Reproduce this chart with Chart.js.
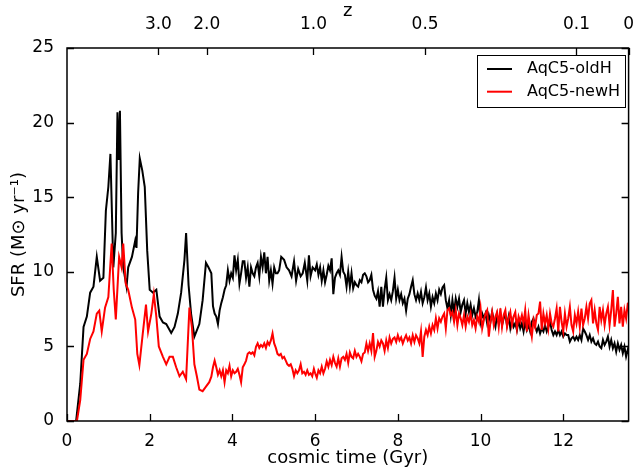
<!DOCTYPE html>
<html>
<head>
<meta charset="utf-8">
<title>SFR AqC5</title>
<script src="https://cdn.jsdelivr.net/npm/chart.js@4/dist/chart.umd.min.js"></script>
<style>
  html, body { margin: 0; padding: 0; background: #fff; }
  #grafico { display: block; }
</style>
</head>
<body>
<canvas id="grafico" width="639" height="472" style="width:639px;height:472px"></canvas>
<script>
// tempi (Gyr) e SFR - serie nera (AqC5-oldH)
var tempoOld = [0, 0.22, 0.32, 0.4, 0.48, 0.56, 0.64, 0.72, 0.8, 0.88,
  0.94, 1.0, 1.05, 1.12, 1.18, 1.22, 1.25, 1.28, 1.32, 1.36,
  1.44, 1.48, 1.57, 1.65, 1.68, 1.72, 1.76, 1.82, 1.88, 1.94,
  2.0, 2.08, 2.16, 2.24, 2.32, 2.4, 2.52, 2.6, 2.68, 2.76,
  2.84, 2.88, 2.94, 3.0, 3.08, 3.2, 3.28, 3.36, 3.42,
  3.49, 3.53, 3.57, 3.61, 3.65, 3.69, 3.73, 3.77, 3.81, 3.85,
  3.89, 3.93, 3.97, 4.01, 4.05, 4.09, 4.13, 4.17, 4.21, 4.25,
  4.29, 4.33, 4.37, 4.41, 4.45, 4.49, 4.53, 4.57, 4.61, 4.65,
  4.69, 4.73, 4.77, 4.81, 4.85, 4.89, 4.93, 4.97, 5.01, 5.05,
  5.09, 5.13, 5.18, 5.25, 5.31, 5.37, 5.43, 5.49, 5.54, 5.59,
  5.65, 5.70, 5.75, 5.81, 5.85, 5.89, 5.94,
  6.00, 6.04, 6.08, 6.12, 6.16, 6.20, 6.24, 6.28, 6.32, 6.36,
  6.40, 6.44, 6.48, 6.52, 6.56, 6.60, 6.64, 6.68, 6.72, 6.76,
  6.80, 6.84, 6.88, 6.92, 6.96, 7.00, 7.04, 7.08, 7.12, 7.16,
  7.20, 7.24, 7.28, 7.32, 7.36, 7.40, 7.44, 7.48, 7.52, 7.56,
  7.60, 7.64, 7.68, 7.72, 7.76, 7.80, 7.84, 7.88, 7.92, 7.96,
  8.00, 8.04, 8.08, 8.12, 8.16, 8.20, 8.24, 8.28, 8.32, 8.36,
  8.40, 8.44,
  8.48, 8.52, 8.56, 8.60, 8.64, 8.68, 8.72, 8.76, 8.80, 8.84,
  8.88, 8.92, 8.96, 9.00, 9.04, 9.08, 9.12, 9.16, 9.20, 9.24,
  9.28, 9.32, 9.36, 9.40, 9.44, 9.48, 9.52, 9.56, 9.60, 9.64,
  9.68, 9.72, 9.76, 9.80, 9.84, 9.88, 9.92, 9.96, 10.00, 10.04,
  10.08, 10.12, 10.16, 10.20, 10.24, 10.28, 10.32, 10.36, 10.40, 10.44,
  10.48, 10.52, 10.56, 10.60, 10.64, 10.68, 10.72, 10.76, 10.80, 10.84,
  10.88, 10.92, 10.96,
  11.00, 11.04, 11.08, 11.12, 11.16, 11.20, 11.24, 11.28, 11.32, 11.36,
  11.40, 11.44, 11.48, 11.52, 11.56, 11.60, 11.64, 11.68, 11.72, 11.76,
  11.80, 11.84, 11.88, 11.92, 11.96, 12.00, 12.04, 12.08, 12.12, 12.16,
  12.20, 12.24, 12.28, 12.32, 12.36, 12.40, 12.44, 12.48, 12.52, 12.56,
  12.60, 12.64, 12.68, 12.72, 12.76, 12.80, 12.84, 12.88, 12.92, 12.96,
  13.00, 13.04, 13.08, 13.12, 13.16, 13.20, 13.24, 13.28, 13.32, 13.36,
  13.40, 13.44, 13.48, 13.52, 13.56, 13.58];
var sfrOld = [0, 0, 2.5, 6.3, 7.0, 8.6, 9.0, 11.0, 9.4, 9.6,
  14.1, 15.7, 17.9, 10.3, 12.6, 20.7, 17.5, 20.8, 12.6, 10.3,
  9.0, 10.3, 11.0, 12.1, 11.6, 15.3, 17.6, 16.8, 15.7, 11.4,
  8.8, 8.6, 8.8, 7.0, 6.6, 6.5, 5.9, 6.3, 7.2, 8.6,
  10.8, 12.6, 9.1, 7.2, 5.65, 6.5, 8.1, 10.6, 10.3,
  9.9, 7.7, 7.2, 7.0, 6.5, 7.4, 7.9, 8.3, 8.8, 9.1,
  10.1, 9.4, 9.9, 9.6, 11.1, 10.1, 10.8, 9.2, 9.9, 10.7,
  10.7, 9.6, 10.3, 9.0, 10.3, 9.9, 9.7, 10.3, 10.6, 9.7,
  11.0, 10.3, 11.3, 9.9, 11.0, 9.4, 10.1, 9.2, 10.3, 9.9,
  9.9, 10.1, 11.0, 10.8, 10.3, 10.1, 9.7, 10.7, 9.4, 10.2,
  9.7, 9.9, 10.6, 9.4, 11.1, 9.7, 10.3,
  10.1, 10.5, 9.8, 10.3, 9.4, 10.1, 9.3, 9.8, 10.4, 10.1,
  10.9, 8.5, 9.6, 9.9, 10.1, 9.8, 11.0, 10.0, 9.8, 9.0,
  10.0, 9.0, 9.9, 8.9, 9.3, 9.1, 9.0, 9.44, 9.3, 9.8,
  9.9, 9.7, 9.3, 9.44, 9.8, 8.8, 8.4, 8.2, 8.7, 7.66,
  9.0, 7.66, 8.8, 9.6, 8.1, 8.5, 8.1, 8.7, 9.6, 8.2,
  8.8, 8.1, 8.5, 7.9, 8.2, 7.4, 8.2, 8.5, 9.0, 9.44,
  8.5, 8.1,
  8.55, 8.1, 8.66, 7.9, 8.3, 8.95, 8.1, 8.55, 7.66, 8.3,
  7.9, 8.55, 8.1, 8.8, 8.5, 8.95, 9.1, 8.1, 7.55, 8.1,
  7.1, 8.1, 7.3, 8.2, 7.66, 8.2, 7.3, 7.8, 8.1, 7.2,
  7.9, 7.3, 7.8, 7.1, 7.55, 7.0, 7.3, 8.1, 6.65, 7.2,
  6.88, 7.2, 6.55, 7.1, 6.65, 7.3, 6.77, 6.32, 7.1, 6.55,
  7.2, 6.43, 6.88, 7.1, 6.43, 7.0, 6.21, 6.77, 6.32, 6.55,
  6.1, 6.77, 6.21,
  6.54, 6.0, 6.65, 6.1, 6.43, 6.0, 6.65, 6.87, 6.32, 6.0,
  6.32, 5.87, 6.2, 6.0, 6.43, 6.0, 6.32, 6.65, 6.1, 5.76,
  6.0, 5.76, 6.1, 5.76, 6.0, 5.65, 5.87, 5.76, 5.76, 5.32,
  5.54, 5.65, 5.43, 5.65, 5.43, 5.76, 5.43, 6.2, 6.0, 5.76,
  5.43, 5.76, 5.32, 5.54, 5.2, 5.1, 5.32, 4.99, 4.88, 5.43,
  5.1, 5.32, 5.65, 4.99, 5.43, 4.88, 5.2, 4.65, 5.2, 4.77,
  5.1, 4.55, 4.99, 4.32, 4.77, 4.5];

// serie rossa (AqC5-newH)
var tempoNew = [0, 0.24, 0.32, 0.4, 0.48, 0.56, 0.64, 0.72, 0.78, 0.84,
  0.92, 1.0, 1.08, 1.13, 1.18, 1.26, 1.32, 1.36, 1.42, 1.48,
  1.57, 1.65, 1.70, 1.75, 1.83, 1.91, 1.96, 2.04, 2.1, 2.16,
  2.22, 2.32, 2.4, 2.48, 2.56, 2.64, 2.72, 2.8, 2.88, 2.96,
  3.02, 3.08, 3.14, 3.2, 3.28, 3.36, 3.44,
  3.49, 3.53, 3.57, 3.61, 3.65, 3.69, 3.73, 3.77, 3.81, 3.85,
  3.89, 3.93, 3.97, 4.01, 4.05, 4.09, 4.13, 4.17, 4.21, 4.25,
  4.29, 4.33, 4.37, 4.41, 4.45, 4.49, 4.53, 4.57, 4.61, 4.65,
  4.69, 4.73, 4.77, 4.81, 4.85, 4.89, 4.93, 4.97, 5.01, 5.05,
  5.09, 5.13, 5.17, 5.21, 5.25, 5.29, 5.33, 5.37, 5.41, 5.45,
  5.49, 5.53, 5.57, 5.61, 5.65, 5.69, 5.73, 5.77, 5.81, 5.85,
  5.89, 5.93, 5.97,
  6.00, 6.04, 6.08, 6.12, 6.16, 6.20, 6.24, 6.28, 6.32, 6.36,
  6.40, 6.44, 6.48, 6.52, 6.56, 6.60, 6.64, 6.68, 6.72, 6.76,
  6.80, 6.84, 6.88, 6.92, 6.96, 7.00, 7.04, 7.08, 7.12, 7.16,
  7.20, 7.24, 7.28, 7.32, 7.36, 7.40, 7.44, 7.48, 7.52, 7.56,
  7.60, 7.64, 7.68, 7.72, 7.76, 7.80, 7.84, 7.88, 7.92, 7.96,
  8.00, 8.04, 8.08, 8.12, 8.16, 8.20, 8.24, 8.28, 8.32, 8.36,
  8.40, 8.44,
  8.48, 8.52, 8.56, 8.60, 8.64, 8.68, 8.72, 8.76, 8.80, 8.84,
  8.88, 8.92, 8.96, 9.00, 9.04, 9.08, 9.12, 9.16, 9.20, 9.24,
  9.28, 9.32, 9.36, 9.40, 9.44, 9.48, 9.52, 9.56, 9.60, 9.64,
  9.68, 9.72, 9.76, 9.80, 9.84, 9.88, 9.92, 9.96, 10.00, 10.04,
  10.08, 10.12, 10.16, 10.20, 10.24, 10.28, 10.32, 10.36, 10.40, 10.44,
  10.48, 10.52, 10.56, 10.60, 10.64, 10.68, 10.72, 10.76, 10.80, 10.84,
  10.88, 10.92, 10.96,
  11.00, 11.04, 11.08, 11.12, 11.16, 11.20, 11.24, 11.28, 11.32, 11.36,
  11.40, 11.44, 11.48, 11.52, 11.56, 11.60, 11.64, 11.68, 11.72, 11.76,
  11.80, 11.84, 11.88, 11.92, 11.96, 12.00, 12.04, 12.08, 12.12, 12.16,
  12.20, 12.24, 12.28, 12.32, 12.36, 12.40, 12.44, 12.48, 12.52, 12.56,
  12.60, 12.64, 12.68, 12.72, 12.76, 12.80, 12.84, 12.88, 12.92, 12.96,
  13.00, 13.04, 13.08, 13.12, 13.16, 13.20, 13.24, 13.28, 13.32, 13.36,
  13.40, 13.44, 13.48, 13.52, 13.56, 13.58];
var sfrNew = [0, 0, 1.4, 4.1, 4.5, 5.5, 6.0, 7.2, 7.4, 6.0,
  7.6, 8.3, 11.9, 8.8, 6.8, 11.0, 10.3, 11.9, 9.2, 8.8,
  7.6, 6.8, 4.5, 3.75, 5.8, 7.8, 6.0, 7.2, 8.5, 7.0,
  5.0, 4.3, 3.8, 4.3, 4.3, 3.6, 3.0, 3.3, 2.8, 7.6,
  6.3, 3.8, 3.0, 2.1, 2.0, 2.3, 2.6,
  2.97, 3.6, 4.05, 3.6, 3.1, 3.4, 3.0, 3.4, 2.6, 3.4,
  3.2, 3.7, 3.0, 3.4, 3.2, 3.3, 3.5, 3.1, 2.6, 3.6,
  3.8, 4.05, 4.5, 4.6, 4.5, 4.6, 4.4, 4.97, 5.2, 4.9,
  5.1, 4.97, 5.2, 4.9, 5.3, 5.1, 5.4, 5.87, 5.2, 4.9,
  4.5, 4.4, 4.5, 4.2, 4.3, 4.05, 3.8, 3.7, 3.8, 3.5,
  3.0, 3.4, 3.2, 3.4, 3.8, 3.2, 3.3, 3.1, 3.4, 3.1,
  3.2, 3.0, 3.5,
  3.2, 2.9, 3.4, 3.2, 3.64, 3.2, 3.5, 4.0, 3.64, 4.1,
  3.75, 4.3, 3.9, 3.64, 4.2, 3.64, 4.2, 4.3, 4.1, 4.5,
  3.9, 4.6, 4.3, 4.2, 4.7, 4.3, 4.5, 4.3, 4.0, 4.5,
  4.6, 5.2, 4.7, 5.2, 4.7, 5.9, 4.3, 4.7, 5.3, 5.0,
  5.4, 5.2, 4.7, 5.4, 4.9, 5.6, 5.2, 5.5, 5.6, 5.3,
  5.75, 5.4, 5.6, 5.2, 5.5, 5.75, 5.4, 5.6, 5.2, 5.75,
  5.3, 5.75,
  5.54, 5.2, 6.0, 4.3, 5.65, 6.1, 5.76, 6.32, 5.87, 6.43,
  6.1, 6.88, 6.21, 6.88, 6.65, 7.0, 7.2, 6.21, 7.43, 7.55,
  7.1, 7.3, 6.65, 7.43, 6.43, 7.2, 6.88, 6.43, 7.1, 6.32,
  7.0, 6.65, 7.2, 6.43, 6.77, 6.21, 7.0, 6.65, 7.55, 6.21,
  6.77, 7.2, 7.43, 5.65, 6.65, 7.3, 6.43, 7.0, 7.3, 6.32,
  7.55, 6.32, 7.1, 7.43, 6.32, 6.88, 7.3, 6.43, 7.0, 7.3,
  6.21, 7.0, 6.65,
  7.1, 6.54, 7.43, 6.0, 7.1, 6.32, 5.65, 6.76, 6.32, 7.1,
  7.2, 8.0, 6.1, 7.2, 6.54, 7.1, 6.2, 7.2, 6.54, 6.32,
  6.87, 7.54, 6.0, 7.65, 6.65, 6.0, 7.2, 6.32, 6.87, 7.65,
  6.43, 6.0, 7.1, 6.54, 7.32, 6.32, 7.54, 6.43, 6.87, 7.65,
  6.87, 7.87, 8.1, 6.54, 7.43, 6.54, 6.1, 7.65, 6.76, 7.43,
  6.43, 7.2, 7.65, 6.43, 7.43, 8.77, 6.32, 7.2, 8.32, 6.54,
  7.65, 6.32, 7.43, 6.87, 7.87, 7.9];

var nomiSerie = ['AqC5-oldH', 'AqC5-newH'];
var coloriSerie = ['#000000', '#ff0000'];

// tacche degli assi
var tickTempo = [0, 2, 4, 6, 8, 10, 12];
var tickSfr = [0, 5, 10, 15, 20, 25];
var tempoMax = 13.58;
// asse in alto: redshift, posizione in tempo cosmico
var tickZTempo = [2.21, 3.38, 5.96, 8.66, 12.32, 13.58];
var etichetteZ = ['3.0', '2.0', '1.0', '0.5', '0.1', '0'];

Chart.defaults.font.family = "'DejaVu Sans', 'Bitstream Vera Sans', sans-serif";
Chart.defaults.color = '#000';

function punti(tempi, valori) {
  var out = [];
  if (tempi.length != valori.length) {
    console.warn('lunghezze diverse', tempi.length, valori.length);
  }
  var n = Math.min(tempi.length, valori.length);
  for (var i = 0; i < n; i++) {
    out.push({ x: tempi[i], y: valori[i] });
  }
  return out;
}

function fissaTick(valori) {
  return function(scale) {
    scale.ticks = valori.map(function(v) { return { value: v }; });
  };
}

// tacche verso l'interno, cornice e legenda stile matplotlib
var cornice = {
  id: 'cornice',
  afterDraw: function(chart) {
    var ctx = chart.ctx;
    var a = chart.chartArea;
    var sx = chart.scales.x;
    var sz = chart.scales.xz;
    var sy = chart.scales.y;
    var lung = 7;
    ctx.save();
    ctx.strokeStyle = '#000';
    ctx.lineWidth = 1.3;
    ctx.beginPath();
    sx.ticks.forEach(function(t) {
      var px = Math.round(sx.getPixelForValue(t.value)) + 0.5;
      ctx.moveTo(px, a.bottom);
      ctx.lineTo(px, a.bottom - lung);
    });
    sz.ticks.forEach(function(t) {
      var px = Math.round(sz.getPixelForValue(t.value)) + 0.5;
      ctx.moveTo(px, a.top);
      ctx.lineTo(px, a.top + lung);
    });
    sy.ticks.forEach(function(t) {
      var py = Math.round(sy.getPixelForValue(t.value)) + 0.5;
      ctx.moveTo(a.left, py);
      ctx.lineTo(a.left + lung, py);
      ctx.moveTo(a.right, py);
      ctx.lineTo(a.right - lung, py);
    });
    ctx.stroke();
    ctx.lineWidth = 1.5;
    ctx.strokeRect(a.left, a.top, a.right - a.left, a.bottom - a.top);

    // legenda
    var lx = 477, ly = 55, lw = 148, lh = 52;
    ctx.fillStyle = '#fff';
    ctx.fillRect(lx, ly, lw, lh);
    ctx.lineWidth = 1;
    ctx.strokeRect(lx + 0.5, ly + 0.5, lw, lh);
    ctx.font = "16px 'DejaVu Sans', sans-serif";
    ctx.textBaseline = 'middle';
    ctx.textAlign = 'left';
    chart.data.datasets.forEach(function(ds, i) {
      var yy = ly + 14 + i * 22.7;
      ctx.strokeStyle = ds.borderColor;
      ctx.lineWidth = 2;
      ctx.beginPath();
      ctx.moveTo(lx + 10, yy);
      ctx.lineTo(lx + 35, yy);
      ctx.stroke();
      ctx.fillStyle = '#000';
      ctx.fillText(ds.label, lx + 50, yy);
    });
    ctx.restore();
  }
};

var grafico = new Chart(document.getElementById('grafico'), {
  type: 'line',
  data: {
    datasets: [{
      label: nomiSerie[0],
      data: punti(tempoOld, sfrOld),
      borderColor: coloriSerie[0],
      borderWidth: 2,
      pointRadius: 0,
      tension: 0,
      fill: false,
      order: 1
    }, {
      label: nomiSerie[1],
      data: punti(tempoNew, sfrNew),
      borderColor: coloriSerie[1],
      borderWidth: 2,
      pointRadius: 0,
      tension: 0,
      fill: false,
      order: 0
    }]
  },
  options: {
    responsive: false,
    animation: false,
    devicePixelRatio: 1,
    layout: { padding: { left: 0, right: 6, top: 0, bottom: 0 } },
    plugins: {
      legend: { display: false },
      tooltip: { enabled: false }
    },
    scales: {
      x: {
        type: 'linear',
        position: 'bottom',
        min: 0,
        max: tempoMax,
        afterBuildTicks: fissaTick(tickTempo),
        afterFit: function(s) { s.height = 51; },
        grid: { display: false },
        border: { display: false },
        ticks: { padding: 2, maxRotation: 0, autoSkip: false, font: { size: 17 } },
        title: { display: true, text: 'cosmic time (Gyr)', font: { size: 18 }, padding: { top: 0, bottom: 3 } }
      },
      xz: {
        type: 'linear',
        position: 'top',
        min: 0,
        max: tempoMax,
        afterBuildTicks: fissaTick(tickZTempo),
        afterFit: function(s) { s.height = 48; },
        grid: { display: false },
        border: { display: false },
        ticks: {
          padding: 5,
          maxRotation: 0,
          autoSkip: false,
          font: { size: 17 },
          callback: function(v, i) { return etichetteZ[i]; }
        },
        title: { display: true, text: 'z', font: { size: 18 }, padding: { top: 1, bottom: 0 } }
      },
      y: {
        type: 'linear',
        position: 'left',
        min: 0,
        max: 25,
        afterBuildTicks: fissaTick(tickSfr),
        afterFit: function(s) { s.width = 67; },
        grid: { display: false },
        border: { display: false },
        ticks: { padding: 5, font: { size: 17 } },
        title: { display: true, text: 'SFR (M\u2299 yr\u207B\u00B9)', font: { size: 18 }, padding: { top: 9, bottom: 0 } }
      }
    }
  },
  plugins: [cornice]
});
</script>
</body>
</html>
